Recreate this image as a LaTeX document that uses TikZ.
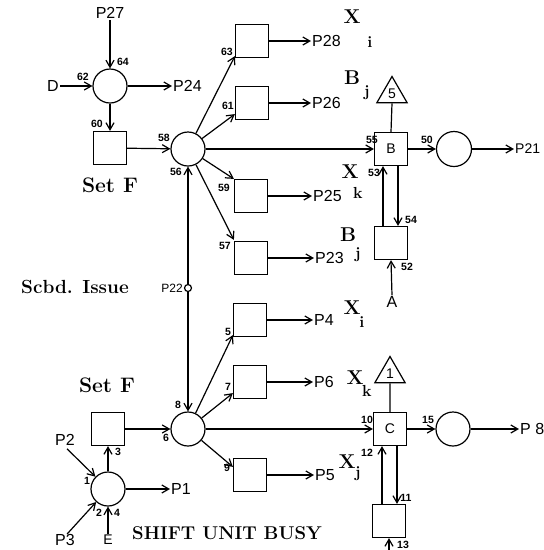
\documentclass[tikz,border=0pt]{standalone}
\usepackage{fontspec}
\newfontfamily\lab{Liberation Sans}
\usetikzlibrary{arrows.meta,shapes.geometric,calc}
\begin{document}
\begin{tikzpicture}[x=1pt,y=-1pt,
  lw/.style={line width=1.2pt},
  box/.style={draw,lw,minimum size=33pt,inner sep=0pt,font=\lab\fontsize{14}{14}\selectfont},
  circ/.style={draw,lw,circle,minimum size=34pt,inner sep=0pt},
  tri/.style={draw,lw,regular polygon,regular polygon sides=3,minimum size=35pt,inner sep=0pt,font=\lab\fontsize{14}{14}\selectfont},
  arr/.style={lw,-{Straight Barb[length=7pt,width=8pt,line width=1.2pt]}},
  plab/.style={font=\lab\fontsize{16}{16}\selectfont,inner sep=1pt,anchor=west},
  ptxt/.style={font=\lab\fontsize{16}{16}\selectfont,inner sep=1pt},
  num/.style={font=\lab\bfseries\fontsize{10.5}{10.5}\selectfont,inner sep=0pt},
  big/.style={font=\bfseries\fontsize{20}{20}\selectfont,inner sep=0pt},
  sub/.style={font=\bfseries\fontsize{16}{16}\selectfont,inner sep=0pt}]
\useasboundingbox (0,0) rectangle (544,550);
% ---------- upper part ----------
\node[ptxt] (p27) at (110,13) {P27};
\node[ptxt,anchor=east] (d) at (60,86) {D};
\node[circ] (c62) at (110,86) {};
\node[plab] (p24) at (172,86) {P24};
\node[box] (b60) at (110,148) {};
\node[big,font=\bfseries\fontsize{21}{21}\selectfont] (setf1) at (110,185) {Set F};
\node[circ] (c58) at (188,149) {};
\node[box] (b63) at (252,41) {};
\node[box] (b61) at (252,103) {};
\node[box] (b59) at (251,196) {};
\node[box] (b57) at (251,258) {};
\node[plab] (p28) at (311,41) {P28};
\node[plab] (p26) at (311,103) {P26};
\node[plab] (p25) at (312,196) {P25};
\node[plab] (p23) at (314,258) {P23};
\node[big] (xi1) at (352,17) {X};
\node[sub] (xi1s) at (370,42) {i};
\node[big] (bj1) at (352,78) {B};
\node[sub] (bj1s) at (367,93) {j};
\node[big] (xk1) at (350,172) {X};
\node[sub] (xk1s) at (358,193) {k};
\node[big] (bj2) at (348,235) {B};
\node[sub] (bj2s) at (358,255) {j};
\node[tri] (t5) at (392,94) {5};
\node[box] (bB) at (391,149) {B};
\node[circ,minimum size=35pt] (c50) at (454,149) {};
\node[plab,font=\lab\fontsize{14}{14}\selectfont] (p21) at (514,149) {P21};
\node[box] (b52) at (391,243) {};
\node[ptxt] (a) at (392,302) {A};
% ---------- middle ----------
\node[font=\bfseries\fontsize{19}{19}\selectfont,inner sep=0pt] (scbd) at (75,287) {Scbd. Issue};
\node[font=\lab\fontsize{12}{12}\selectfont,inner sep=0pt,anchor=east] (p22) at (183,288) {P22};
\node[draw,lw,circle,minimum size=7pt,inner sep=0pt] (pc) at (188,288) {};
% ---------- lower part ----------
\node[big,font=\bfseries\fontsize{21}{21}\selectfont] (setf2) at (107,385) {Set F};
\node[box] (b3) at (108,429) {};
\node[circ] (c1) at (108,489) {};
\node[ptxt] (p2) at (65,440) {P2};
\node[ptxt] (p3) at (65,540) {P3};
\node[ptxt,font=\lab\fontsize{14}{14}\selectfont] (e) at (108,540) {E};
\node[plab] (p1) at (170,489) {P1};
\node[circ] (c8) at (188,429) {};
\node[box] (b5) at (250,320) {};
\node[box] (b7) at (250,382) {};
\node[box] (b9) at (250,475) {};
\node[plab] (p4) at (313,320) {P4};
\node[plab] (p6) at (313,382) {P6};
\node[plab] (p5) at (314,475) {P5};
\node[big] (xi2) at (352,308) {X};
\node[sub] (xi2s) at (362,322) {i};
\node[big] (xk2) at (355,378) {X};
\node[sub] (xk2s) at (367,391) {k};
\node[big] (xj2) at (347,462) {X};
\node[sub] (xj2s) at (358,474) {j};
\node[tri] (t1) at (390,374) {1};
\node[box] (bC) at (390,429) {C};
\node[circ] (c15) at (453,429) {};
\node[plab] (p8) at (519,429) {P 8};
\node[box] (b13) at (389,521) {};
\coordinate (bot13) at (389,552);
\node[font=\bfseries\fontsize{18.5}{18.5}\selectfont,inner sep=0pt] (shift) at (227,533) {SHIFT UNIT BUSY};
% ---------- small numbers ----------
\node[num] at (123,62) {64};
\node[num] at (83,77) {62};
\node[num] at (97,124) {60};
\node[num] at (164,138) {58};
\node[num] at (176,172) {56};
\node[num] at (227,52) {63};
\node[num] at (228,106) {61};
\node[num] at (224,188) {59};
\node[num] at (225,246) {57};
\node[num] at (372,140) {55};
\node[num] at (427,140) {50};
\node[num] at (374,173) {53};
\node[num] at (411,220) {54};
\node[num] at (407,267) {52};
\node[num] at (178,405) {8};
\node[num] at (166,438) {6};
\node[num] at (228,332) {5};
\node[num] at (228,387) {7};
\node[num] at (227,468) {9};
\node[num] at (118,452) {3};
\node[num] at (87,481) {1};
\node[num] at (99,513) {2};
\node[num] at (117,513) {4};
\node[num] at (367,420) {10};
\node[num] at (428,420) {15};
\node[num] at (367,453) {12};
\node[num] at (406,498) {11};
\node[num] at (403,545) {13};
% ---------- connectors upper ----------
\draw[arr] (p27.south) -- (c62);
\draw[arr] (d.east) -- (c62);
\draw[arr] (c62) -- (p24.west);
\draw[arr] (c62) -- (b60);
\draw[arr] (b60) -- (c58);
\draw[arr] (c58) -- ($(b63.south west)+(0,-2)$);
\draw[arr] (c58) -- ($(b61.south west)+(0,-6)$);
\draw[arr] (c58) -- ($(b59.north west)+(0,0)$);
\draw[arr] (c58) -- ($(b57.north west)+(0,-1)$);
\draw[arr] (c58) -- (bB);
\draw[arr] (b63) -- (p28.west);
\draw[arr] (b61) -- (p26.west);
\draw[arr] (b59) -- (p25.west);
\draw[arr] (b57) -- (p23.west);
\draw[lw] (t5.south) -- (bB.north);
\draw[arr] (bB) -- (c50);
\draw[arr] (c50) -- (p21.west);
\draw[arr] ($(b52.north)+(-8,0)$) -- ($(bB.south)+(-8,0)$);
\draw[arr] ($(bB.south)+(7,0)$) -- ($(b52.north)+(7,0)$);
\draw[arr] (a.north) -- (b52.south);
% ---------- middle ----------
\draw[arr] (pc) -- (c58);
\draw[arr] (pc) -- (c8);
% ---------- connectors lower ----------
\draw[arr] ($(p2.south)+(2,2)$) -- (c1);
\draw[arr] ($(p3.north)+(2,1)$) -- (c1);
\draw[arr] (e.north) -- (c1);
\draw[arr] (c1) -- (b3);
\draw[arr] (c1) -- (p1.west);
\draw[arr] (b3) -- (c8);
\draw[arr] (c8) -- ($(b5.south west)+(0,-2)$);
\draw[arr] (c8) -- ($(b7.south west)+(0,-6)$);
\draw[arr] (c8) -- ($(b9.north west)+(0,9)$);
\draw[arr] (c8) -- (bC);
\draw[arr] (b5) -- (p4.west);
\draw[arr] (b7) -- (p6.west);
\draw[arr] (b9) -- (p5.west);
\draw[lw] (t1.south) -- (bC.north);
\draw[arr] (bC) -- (c15);
\draw[arr] (c15) -- (p8.west);
\draw[arr] ($(b13.north)+(-7,0)$) -- ($(bC.south)+(-8,0)$);
\draw[arr] ($(bC.south)+(7,0)$) -- ($(b13.north)+(8,0)$);
\draw[arr] (bot13) -- (b13.south);
\end{tikzpicture}
\end{document}
